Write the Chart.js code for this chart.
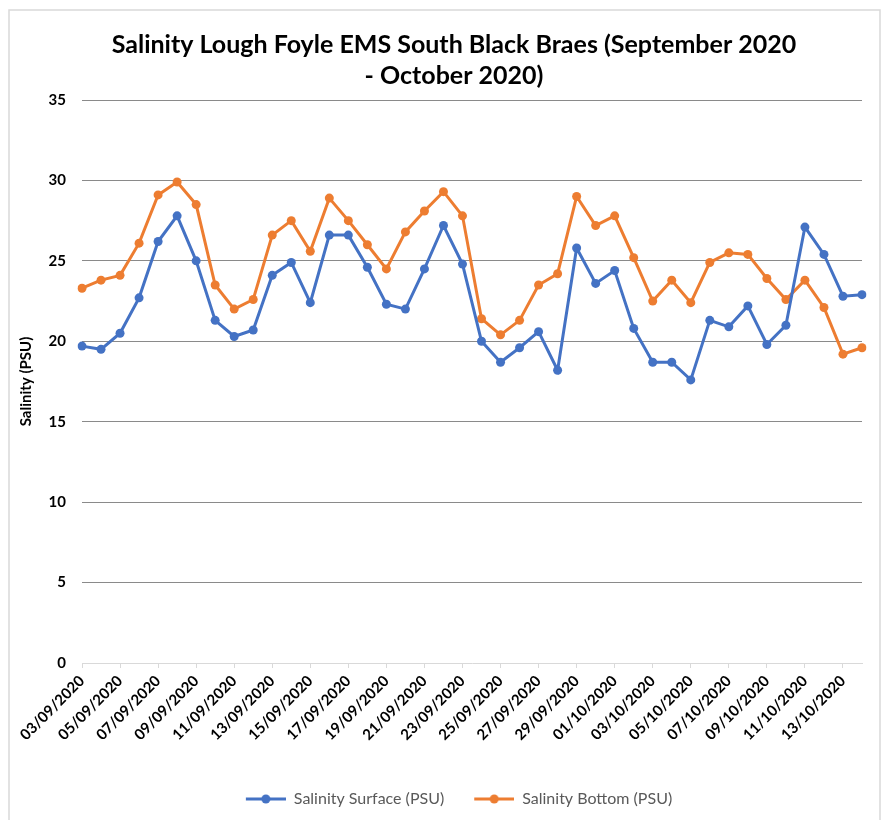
<!DOCTYPE html>
<html>
<head>
<meta charset="utf-8">
<script src="https://cdn.jsdelivr.net/npm/chart.js@4/dist/chart.umd.min.js"></script>
<style>
  html, body { margin: 0; padding: 0; background: #fff; overflow: hidden; }
  #wrap { width: 881px; height: 820px; overflow: hidden; }
</style>
</head>
<body>
<div id="wrap"><canvas id="salinityChart" width="900" height="820"></canvas></div>
<script>
const dates = [
    "03/09/2020", "04/09/2020", "05/09/2020", "06/09/2020", "07/09/2020", "08/09/2020",
    "09/09/2020", "10/09/2020", "11/09/2020", "12/09/2020", "13/09/2020", "14/09/2020",
    "15/09/2020", "16/09/2020", "17/09/2020", "18/09/2020", "19/09/2020", "20/09/2020",
    "21/09/2020", "22/09/2020", "23/09/2020", "24/09/2020", "25/09/2020", "26/09/2020",
    "27/09/2020", "28/09/2020", "29/09/2020", "30/09/2020", "01/10/2020", "02/10/2020",
    "03/10/2020", "04/10/2020", "05/10/2020", "06/10/2020", "07/10/2020", "08/10/2020",
    "09/10/2020", "10/10/2020", "11/10/2020", "12/10/2020", "13/10/2020", "14/10/2020"
];

const surface = [
    19.7, 19.5, 20.5, 22.7, 26.2, 27.8, 25.0, 21.3, 20.3, 20.7, 24.1, 24.9,
    22.4, 26.6, 26.6, 24.6, 22.3, 22.0, 24.5, 27.2, 24.8, 20.0, 18.7, 19.6,
    20.6, 18.2, 25.8, 23.6, 24.4, 20.8, 18.7, 18.7, 17.6, 21.3, 20.9, 22.2,
    19.8, 21.0, 27.1, 25.4, 22.8, 22.9
];

const bottom = [
    23.3, 23.8, 24.1, 26.1, 29.1, 29.9, 28.5, 23.5, 22.0, 22.6, 26.6, 27.5,
    25.6, 28.9, 27.5, 26.0, 24.5, 26.8, 28.1, 29.3, 27.8, 21.4, 20.4, 21.3,
    23.5, 24.2, 29.0, 27.2, 27.8, 25.2, 22.5, 23.8, 22.4, 24.9, 25.5, 25.4,
    23.9, 22.6, 23.8, 22.1, 19.2, 19.6
];

const yTicks = [0, 5, 10, 15, 20, 25, 30, 35];

const blue = '#4472C4';
const orange = '#ED7D31';
const font = 'Lato, "DejaVu Sans", sans-serif';

// little line-with-dot image for the legend (blank on the left adds to the gap between items)
function legendMarker(color) {
    let c = document.createElement('canvas');
    c.width = 50;
    c.height = 12;
    let g = c.getContext('2d');
    g.strokeStyle = color;
    g.lineWidth = 3;
    g.beginPath();
    g.moveTo(10, 6);
    g.lineTo(50, 6);
    g.stroke();
    g.fillStyle = color;
    g.beginPath();
    g.arc(30, 6, 4.5, 0, Math.PI * 2);
    g.fill();
    return c;
}
const markers = [legendMarker(blue), legendMarker(orange)];

const frame = {
    id: 'frame',
    beforeDraw(chart) {
        let ctx = chart.ctx;
        ctx.save();
        ctx.fillStyle = '#fff';
        ctx.fillRect(0, 0, chart.width, chart.height);
        ctx.strokeStyle = '#d9d9d9';
        ctx.lineWidth = 1.5;
        ctx.strokeRect(9, 10, 871, 900);
        ctx.restore();
    }
};

const ctx = document.getElementById('salinityChart').getContext('2d');
const salinityChart = new Chart(ctx, {
    type: 'line',
    data: {
        labels: dates,
        datasets: [
            {
                label: "Salinity Surface (PSU)",
                data: surface,
                borderColor: blue,
                backgroundColor: blue,
                borderWidth: 3,
                pointRadius: 4.5,
                pointBorderWidth: 0,
                pointBackgroundColor: blue,
                tension: 0
            },
            {
                label: "Salinity Bottom (PSU)",
                data: bottom,
                borderColor: orange,
                backgroundColor: orange,
                borderWidth: 3,
                pointRadius: 4.5,
                pointBorderWidth: 0,
                pointBackgroundColor: orange,
                tension: 0
            }
        ]
    },
    options: {
        responsive: false,
        animation: false,
        layout: { padding: { left: 10, right: 2, top: 0, bottom: 3 } },
        plugins: {
            title: {
                display: true,
                text: ["Salinity Lough Foyle EMS South Black Braes (September 2020", "- October 2020)"],
                color: '#000',
                font: { family: font, size: 25, weight: 'bold', lineHeight: 1.24 },
                padding: { top: 29, bottom: 9 }
            },
            legend: {
                position: 'bottom',
                labels: {
                    usePointStyle: true,
                    pointStyleWidth: 50,
                    padding: 20,
                    color: '#595959',
                    font: { family: font, size: 16 },
                    generateLabels(chart) {
                        return chart.data.datasets.map((ds, i) => ({
                            text: ds.label,
                            pointStyle: markers[i],
                            fillStyle: ds.borderColor,
                            strokeStyle: ds.borderColor,
                            fontColor: '#595959',
                            lineWidth: 0,
                            datasetIndex: i,
                            hidden: false
                        }));
                    }
                }
            },
            tooltip: { enabled: false }
        },
        scales: {
            x: {
                offset: false,
                afterFit(scale) { scale.height = 108; },
                border: { color: '#d9d9d9', width: 1 },
                grid: {
                    drawOnChartArea: false,
                    drawTicks: true,
                    tickLength: 5,
                    color: c => c.index % 2 === 0 ? '#d9d9d9' : 'rgba(0,0,0,0)'
                },
                ticks: {
                    autoSkip: false,
                    minRotation: 45,
                    maxRotation: 45,
                    padding: 4,
                    color: '#000',
                    font: { family: font, size: 15, weight: 'bold' },
                    callback: (v, i) => i % 2 === 0 ? dates[i] : ''
                }
            },
            y: {
                min: yTicks[0],
                max: yTicks[yTicks.length - 1],
                afterFit(scale) { scale.width = 72; },
                afterBuildTicks(scale) { scale.ticks = yTicks.map(v => ({ value: v })); },
                border: { display: false },
                grid: {
                    drawTicks: false,
                    color: c => c.tick.value === 0 ? 'rgba(0,0,0,0)' : '#8a8a8a',
                    lineWidth: 1
                },
                ticks: {
                    padding: 16,
                    color: '#000',
                    font: { family: font, size: 15, weight: 'bold' }
                },
                title: {
                    display: true,
                    text: "Salinity (PSU)",
                    color: '#000',
                    font: { family: font, size: 15, weight: 'bold' },
                    padding: { top: 7, bottom: 0 }
                }
            },
            // empty right-hand strip, keeps title and legend centred like the original
            yRight: {
                type: 'linear',
                position: 'right',
                afterFit(scale) { scale.width = 36; },
                border: { display: false },
                grid: { display: false },
                ticks: { display: false }
            }
        }
    },
    plugins: [frame]
});
</script>
</body>
</html>
